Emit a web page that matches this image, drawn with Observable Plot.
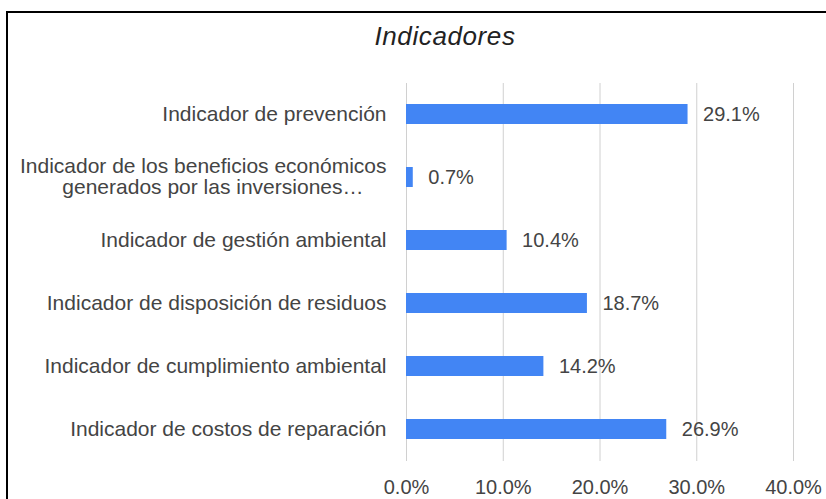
<!DOCTYPE html>
<html>
<head>
<meta charset="utf-8">
<script src="https://cdn.jsdelivr.net/npm/d3@7"></script>
<script src="https://cdn.jsdelivr.net/npm/@observablehq/plot@0.6"></script>
<style>
  html, body { margin: 0; padding: 0; background: #fff; overflow: hidden; }
  #wrap { position: relative; width: 826px; height: 499px; overflow: hidden; }
  #border { position: absolute; left: 6px; top: 11px; width: 900px; height: 600px; border: 2px solid #000; box-sizing: border-box; }
  #title { position: absolute; left: 0; top: 19px; width: 890px; height: 34px; line-height: 34px; text-align: center;
           font-family: "Liberation Sans", Arial, sans-serif; font-style: italic; font-size: 26px; letter-spacing: 0.6px; color: #222; }
  #chart { position: absolute; left: 0; top: 64px; }
</style>
</head>
<body>
<div id="wrap">
  <div id="border"></div>
  <div id="title">Indicadores</div>
  <div id="chart"></div>
</div>
<script>
const categories = [
  "Indicador de prevención",
  "Indicador de los beneficios económicos generados por las inversiones",
  "Indicador de gestión ambiental",
  "Indicador de disposición de residuos",
  "Indicador de cumplimiento ambiental",
  "Indicador de costos de reparación"
];
const labelLine1 = [
  "Indicador de prevención",
  "Indicador de los beneficios económicos",
  "Indicador de gestión ambiental",
  "Indicador de disposición de residuos",
  "Indicador de cumplimiento ambiental",
  "Indicador de costos de reparación"
];
const labelLine2 = ["", "generados por las inversiones…", "", "", "", ""];
const values = [29.1, 0.7, 10.4, 18.7, 14.2, 26.9];
const xTicks = [0, 10, 20, 30, 40];

const rows = categories.map((c, i) => ({cat: c, value: values[i], l1: labelLine1[i], l2: labelLine2[i]}));
const single = rows.filter(d => !d.l2);
const multi = rows.filter(d => d.l2);

const font = "Liberation Sans, Arial, sans-serif";
const grey = "#444";

const chart = Plot.plot({
  width: 826,
  height: 435,
  marginLeft: 406,
  marginRight: 33,
  marginTop: 19,
  marginBottom: 38,
  style: {fontFamily: font, fontSize: "20px", color: grey, background: "transparent"},
  x: {domain: [0, 40], ticks: xTicks, tickFormat: d => d.toFixed(1) + "%", label: null},
  y: {domain: categories, paddingInner: 0.68, paddingOuter: 0.34, axis: null},
  marks: [
    Plot.gridX(xTicks, {stroke: "#d0d0d0", strokeOpacity: 1, strokeWidth: 1}),
    Plot.axisX({ticks: xTicks, tickFormat: d => d.toFixed(1) + "%", tickSize: 0, tickPadding: 18, fontSize: 20, fill: grey, label: null}),
    Plot.barX(rows, {x: "value", y: "cat", fill: "#4285F4"}),
    Plot.text(rows, {x: "value", y: "cat", text: d => d.value.toFixed(1) + "%", textAnchor: "start", dx: 15, fontSize: 20, fill: grey}),
    Plot.text(single, {y: "cat", text: "l1", frameAnchor: "left", textAnchor: "end", dx: -20, fontSize: 21, fill: grey}),
    Plot.text(multi, {y: "cat", text: "l1", frameAnchor: "left", textAnchor: "end", dx: -20, dy: -11, fontSize: 21, fill: grey}),
    Plot.text(multi, {y: "cat", text: "l2", frameAnchor: "left", textAnchor: "end", dx: -43, dy: 10, fontSize: 21, fill: grey})
  ]
});
document.getElementById("chart").appendChild(chart);
</script>
</body>
</html>
